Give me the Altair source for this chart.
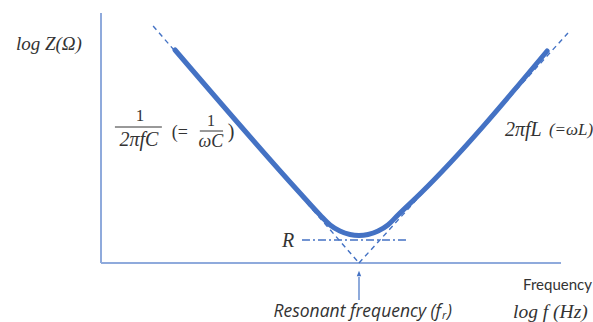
import altair as alt
import pandas as pd

# Series RLC impedance |Z| against frequency, both on log scales (arbitrary units)
curve_logf = [2.87, 7.71, 8.49, 8.88, 9.26, 9.65, 10.0, 10.35, 10.74, 11.12, 11.51, 12.40, 17.29]
curve_logz = [8.52, 2.80, 1.92, 1.52, 1.28, 1.14, 1.10, 1.14, 1.28, 1.52, 1.92, 2.80, 8.48]

# Asymptotes: capacitive 1/(2πfC) falling, inductive 2πfL rising
cap_logf = [2.02, 10.0]
cap_logz = [9.48, 0.0]
ind_logf = [10.0, 18.1]
ind_logz = [0.0, 9.2]

f_res = 10.0          # resonant frequency
r_level = 0.92        # resistance floor R
r_span = [7.79, 11.86]

axis_x_end = 17.83
axis_y_end = 10.0

BLUE = "#4472c4"
AXIS = "#8faadc"
INK = "#333333"
SERIF = "Liberation Serif"
SANS = "Open Sans"

xs = alt.Scale(domain=[0, 18], range=[101, 565.4], zero=False, nice=False)
ys = alt.Scale(domain=[0, 10], range=[263, 13], zero=False, nice=False)


def X(field="x"):
    return alt.X(f"{field}:Q", scale=xs, axis=None)


def Y(field="y"):
    return alt.Y(f"{field}:Q", scale=ys, axis=None)


# axis lines
axes_df = pd.DataFrame({"x": [0, 0], "x2": [axis_x_end, 0], "y": [0, 0], "y2": [0, axis_y_end]})
axes = alt.Chart(axes_df).mark_rule(color=AXIS, strokeWidth=2).encode(
    x=X(), x2="x2:Q", y=Y(), y2="y2:Q"
)

# dashed asymptotes
asym_df = pd.concat([
    pd.DataFrame({"x": cap_logf, "y": cap_logz, "side": "C"}),
    pd.DataFrame({"x": ind_logf, "y": ind_logz, "side": "L"}),
])
asym = alt.Chart(asym_df).mark_line(color=BLUE, strokeWidth=1.4, strokeDash=[5, 4]).encode(
    x=X(), y=Y(), detail="side:N"
)

# resistance level, dash-dot
r_df = pd.DataFrame({"x": [r_span[0]], "x2": [r_span[1]], "y": [r_level]})
r_line = alt.Chart(r_df).mark_rule(color=BLUE, strokeWidth=1.4, strokeDash=[8, 3, 2, 3]).encode(
    x=X(), x2="x2:Q", y=Y()
)

# impedance curve
curve_df = pd.DataFrame({"x": curve_logf, "y": curve_logz})
curve = alt.Chart(curve_df).mark_line(
    color=BLUE, strokeWidth=5, strokeCap="round", strokeJoin="round", interpolate="monotone"
).encode(x=X(), y=Y())

# arrow pointing at the resonant frequency
shaft_df = pd.DataFrame({"x": [f_res], "y": [-1.48], "y2": [-0.56]})
shaft = alt.Chart(shaft_df).mark_rule(color=BLUE, strokeWidth=1.2).encode(
    x=X(), y=Y(), y2="y2:Q"
)
head_df = pd.DataFrame({"x": [f_res], "y": [-0.42]})
head = alt.Chart(head_df).mark_point(
    shape="M0,-1L-0.8,1L0.8,1Z", filled=True, size=31, color=BLUE, opacity=1
).encode(x=X(), y=Y())


def label(text, x, y, **kw):
    df = pd.DataFrame({"x": [x], "y": [y], "t": [text]})
    params = dict(color=INK, baseline="middle")
    params.update(kw)
    return alt.Chart(df).mark_text(**params).encode(x=X(), y=Y(), text="t:N")


def bar(x0, x1, y):
    df = pd.DataFrame({"x": [x0], "x2": [x1], "y": [y]})
    return alt.Chart(df).mark_rule(color=INK, strokeWidth=1).encode(x=X(), x2="x2:Q", y=Y())


texts = [
    label("log Z(Ω)", -2.02, 8.76, font=SERIF, fontStyle="italic", fontSize=19),
    label("R", 7.25, 0.88, font=SERIF, fontStyle="italic", fontSize=20),
    label("2πfL", 15.66, 5.32, font=SERIF, fontStyle="italic", fontSize=20, align="left"),
    label("(=ωL)", 17.36, 5.32, font=SERIF, fontStyle="italic", fontSize=17, align="left"),
    label("Frequency", 16.36, -0.86, font="Lato", fontSize=15, align="left"),
    label("log f (Hz)", 15.97, -1.96, font=SERIF, fontStyle="italic", fontSize=19.5, align="left"),
    # 1/(2πfC)  (= 1/(ωC))
    label("1", 1.51, 5.90, font=SERIF, fontSize=17),
    bar(0.54, 2.36, 5.44),
    label("2πfC", 1.47, 4.94, font=SERIF, fontStyle="italic", fontSize=20),
    label("(=", 3.06, 5.20, font=SERIF, fontSize=18),
    label("1", 4.26, 5.70, font=SERIF, fontSize=16),
    bar(3.83, 4.73, 5.28),
    label("ωC", 4.26, 4.86, font=SERIF, fontStyle="italic", fontSize=18),
    label(")", 5.04, 5.24, font=SERIF, fontSize=20),
    # Resonant frequency (f_r)
    label("Resonant frequency (f", 13.18, -1.96, font=SANS, fontStyle="italic", fontSize=17.5, align="right"),
    label("r", 13.18, -2.10, font=SANS, fontStyle="italic", fontSize=11, align="left", dx=1),
    label(")", 13.18, -1.96, font=SANS, fontStyle="italic", fontSize=17.5, align="left", dx=6),
]

chart = alt.layer(axes, asym, r_line, curve, shaft, head, *texts).properties(
    width=593, height=322, padding=0, autosize=alt.AutoSizeParams(type="none"),
    background="white",
).configure_view(stroke=None)

chart.save("out.html", embed_options={"renderer": "svg", "actions": False})
